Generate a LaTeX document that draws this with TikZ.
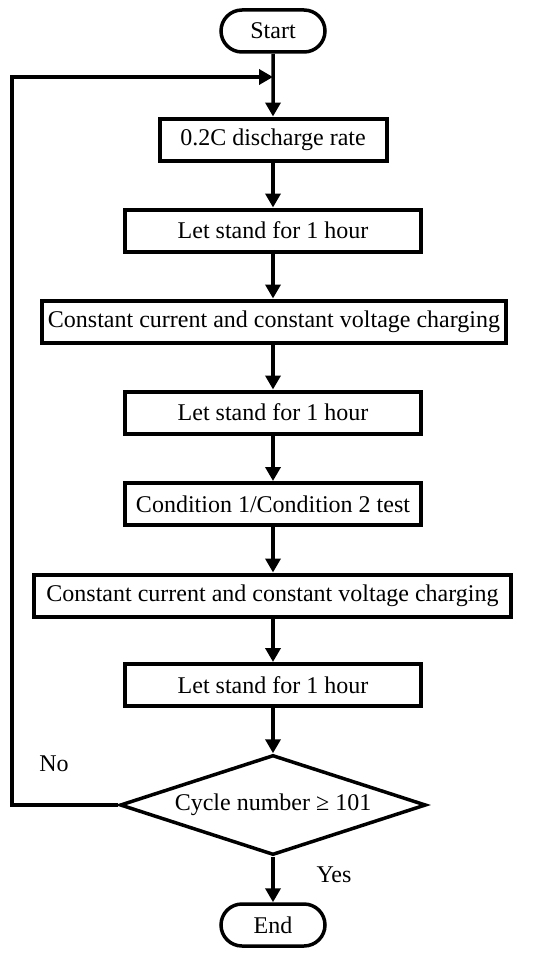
\documentclass[tikz,border=0pt]{standalone}
\usepackage{fontspec}
\setmainfont{Liberation Serif}
\usetikzlibrary{shapes.geometric,shapes.misc,arrows.meta}
\begin{document}
\begin{tikzpicture}[x=1pt,y=-1pt,
  font=\fontsize{24}{28}\selectfont,
  box/.style={draw,line width=4pt,rectangle,inner sep=0pt,minimum height=42pt},
  term/.style={draw,line width=3.5pt,rounded rectangle,inner sep=0pt,minimum width=104pt,minimum height=42pt},
  decision/.style={draw,line width=3.5pt,diamond,shape aspect=3,inner sep=0pt,minimum width=306pt,minimum height=100pt},
  arr/.style={line width=3.5pt,-{Triangle[length=14pt,width=15pt]}},
  lbl/.style={inner sep=0pt}]
\useasboundingbox (0,0) rectangle (550,958);
\node[term] (start) at (273,31) {Start};
\node[box,minimum width=227pt] (b1) at (273,139.5) {0.2C discharge rate};
\node[box,minimum width=296pt] (b2) at (273,230.5) {Let stand for 1 hour};
\node[box,minimum width=464pt] (b3) at (274,321.5) {Constant current and constant voltage charging};
\node[box,minimum width=296pt] (b4) at (273,412.5) {Let stand for 1 hour};
\node[box,minimum width=296pt] (b5) at (273,504) {Condition 1/Condition 2 test};
\node[box,minimum width=477pt] (b6) at (272.5,595.5) {Constant current and constant voltage charging};
\node[box,minimum width=296pt] (b7) at (273,685) {Let stand for 1 hour};
\node[decision] (dec) at (273,805) {Cycle number ≥ 101};
\node[term] (end) at (273,925) {End};
\node[lbl] (no) at (54,764) {No};
\node[lbl] (yes) at (334,875) {Yes};
\coordinate (join) at (273,77);
\coordinate (lb) at (12,805);
\coordinate (lt) at (12,77);
\draw[arr] (start) -- (b1);
\draw[arr] (b1) -- (b2);
\draw[arr] (b2) -- (b3.north -| b2);
\draw[arr] (b3.south -| b2) -- (b4);
\draw[arr] (b4) -- (b5);
\draw[arr] (b5) -- (b6.north -| b5);
\draw[arr] (b6.south -| b5) -- (b7);
\draw[arr] (b7) -- (dec);
\draw[arr] (dec) -- (end);
\draw[arr,line join=miter] (dec.west) -- (lb) -- (lt) -- (join);
\end{tikzpicture}
\end{document}
